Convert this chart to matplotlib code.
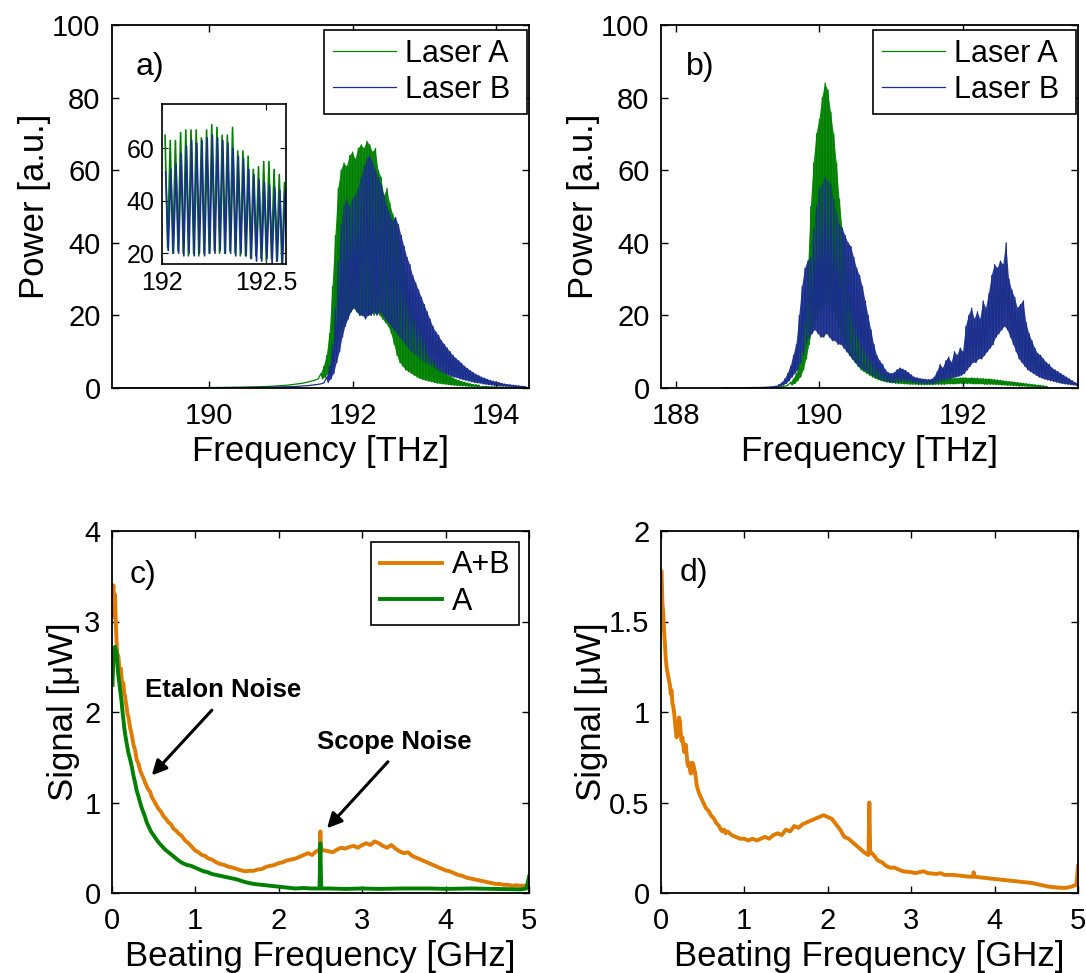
import numpy as np
import matplotlib
matplotlib.use("Agg")
import matplotlib.pyplot as plt

plt.rcParams['font.family'] = ['Liberation Sans', 'DejaVu Sans']
plt.rcParams['font.size'] = 21

# ---------------- data ----------------
GREEN = '#008000'
BLUE = '#1a2e8c'
ORANGE = '#df7b00'

STEP = 0.04  # THz between successive (peak, trough) readings

# Panel a) -- Laser A
a_A_lead_f = [188.64, 189.5, 190.0, 190.4, 190.7, 190.9, 191.1, 191.3, 191.45, 191.52]
a_A_lead_p = [0.05, 0.08, 0.12, 0.2, 0.35, 0.5, 0.8, 1.3, 2.0, 2.5]
a_A_osc_start = 191.56
a_A_osc = [(4, 2.5), (6, 3), (9, 4), (15, 6), (28, 8), (42, 11), (55, 14), (60, 17),
           (62, 19), (61, 20), (64, 21), (65, 22), (63, 21), (66, 20), (67, 20), (66, 21),
           (68, 20), (67, 21), (65, 20), (66, 21), (60, 20), (58, 19), (53, 18), (55, 17),
           (51, 15), (48, 12), (46, 9), (42, 7), (37, 6), (33, 5), (28, 4.5), (24, 4),
           (21, 3.5), (18, 3), (16, 2.6), (14, 2.3), (12, 2.1), (10, 1.9), (8.5, 1.7), (7.5, 1.5),
           (6.5, 1.3), (5.5, 1.2), (4.8, 1.1), (4.2, 1.0), (3.6, 0.9), (3.2, 0.8), (2.8, 0.7), (2.4, 0.65),
           (2.1, 0.6), (1.8, 0.55), (1.6, 0.5), (1.4, 0.45), (1.2, 0.4), (1.0, 0.35), (0.9, 0.3), (0.8, 0.3)]
a_A_tail_f = [193.82, 194.0, 194.2, 194.46]
a_A_tail_p = [0.4, 0.25, 0.15, 0.1]

# Panel a) -- Laser B
a_B_lead_f = [188.64, 190.0, 190.8, 191.2, 191.4, 191.55, 191.6]
a_B_lead_p = [0.05, 0.08, 0.2, 0.4, 0.7, 1.1, 1.4]
a_B_osc_start = 191.64
a_B_osc = [(3, 1.5), (6, 2.5), (12, 4), (22, 7), (35, 10), (45, 14), (50, 17), (52, 19),
           (50, 21), (52, 22), (53, 21), (55, 20), (58, 20), (61, 19), (63, 20), (64, 20),
           (62, 21), (60, 20), (58, 21), (56, 20), (53, 19), (50, 18), (48, 17), (46, 16),
           (47, 15), (45, 14), (42, 13), (39, 12), (36, 11), (34, 10), (31, 9.5), (29, 9),
           (27, 8), (25, 7.5), (23, 7), (21, 6.5), (19, 6), (17, 5.5), (15.5, 5), (14.5, 4.5),
           (13, 4.2), (12, 3.8), (11, 3.5), (10, 3.2), (9, 3.0), (8.2, 2.8), (7.5, 2.5), (6.8, 2.3),
           (6.0, 2.1), (5.4, 1.9), (4.8, 1.7), (4.3, 1.5), (3.8, 1.4), (3.4, 1.3), (3.0, 1.1), (2.7, 1.0),
           (2.4, 0.9), (2.1, 0.8), (1.9, 0.7), (1.7, 0.6), (1.5, 0.55), (1.3, 0.5), (1.1, 0.45), (1.0, 0.4),
           (0.9, 0.35), (0.8, 0.3), (0.7, 0.3), (0.6, 0.25), (0.5, 0.2), (0.45, 0.2)]

# Inset (zoom of panel a)
inset_start = 192.019
inset_period = 0.0249
inset_A = [(65, 22), (63, 20), (63, 21), (66, 20), (67, 19), (67, 20), (67, 19), (64, 20),
           (67, 20), (69, 21), (68, 20), (65, 20), (65, 21), (68, 20), (59, 19), (59, 19),
           (57, 18), (52, 19), (53, 18), (55, 17), (55, 18), (52, 17), (50, 15), (47, 16)]
inset_B = [(51, 21), (52, 20), (54, 20), (58, 19), (61, 20), (63, 19), (62, 20), (63, 19),
           (64, 20), (65, 20), (64, 21), (63, 20), (62, 20), (60, 19), (57, 20), (56, 19),
           (52, 18), (50, 17), (48, 17), (47, 18), (46, 16), (45, 17), (44, 16), (44, 17)]

# Panel b) -- Laser A
b_A_lead_f = [188.67, 189.0, 189.3, 189.45, 189.55]
b_A_lead_p = [0.05, 0.05, 0.1, 0.3, 0.6]
b_A_osc_start = 189.60
b_A_osc = [(1.5, 0.8), (2.5, 1.2), (4, 2), (6, 3), (10, 5), (18, 8), (32, 12), (50, 16),
           (62, 18), (70, 20), (74, 22), (80, 23), (84, 24), (82, 23), (76, 22), (70, 20),
           (62, 18), (52, 15), (44, 13), (36, 11), (28, 9), (22, 8), (18, 7), (15, 6),
           (13, 5), (11, 4.5), (9.5, 4), (8, 3.5), (7, 3), (6, 2.6), (5, 2.3), (4.5, 2),
           (4, 1.8), (3.6, 1.6), (3.3, 1.5), (3.0, 1.4), (2.8, 1.3), (2.6, 1.2), (2.5, 1.2), (2.4, 1.1),
           (2.3, 1.1), (2.2, 1.0), (2.2, 1.0), (2.1, 1.0), (2.1, 0.9), (2.0, 0.9), (2.0, 0.9), (2.1, 0.9),
           (2.1, 0.9), (2.2, 0.9), (2.2, 1.0), (2.3, 1.0), (2.4, 1.0), (2.5, 1.0), (2.5, 1.1), (2.6, 1.1),
           (2.6, 1.1), (2.7, 1.1), (2.7, 1.2), (2.8, 1.2), (2.8, 1.2), (2.8, 1.2), (2.7, 1.2), (2.8, 1.1),
           (2.7, 1.1), (2.7, 1.1), (2.6, 1.1), (2.6, 1.0), (2.5, 1.0), (2.5, 1.0), (2.4, 1.0), (2.3, 0.9),
           (2.2, 0.9), (2.1, 0.8), (2.0, 0.8), (1.9, 0.7), (1.8, 0.7), (1.7, 0.6), (1.6, 0.6), (1.5, 0.5),
           (1.4, 0.5), (1.3, 0.5), (1.2, 0.4), (1.1, 0.4), (1.0, 0.35), (0.9, 0.3), (0.8, 0.3), (0.7, 0.25),
           (0.6, 0.2), (0.5, 0.2)]

# Panel b) -- Laser B
b_B_lead_f = [188.67, 189.0, 189.2, 189.3, 189.36]
b_B_lead_p = [0.05, 0.1, 0.15, 0.25, 0.35]
b_B_osc_start = 189.40
b_B_osc = [(0.5, 0.3), (1.0, 0.5), (1.5, 0.8), (2.5, 1.2), (4, 2), (6, 3), (9, 4), (12, 5),
           (20, 7), (28, 9), (33, 12), (35, 14), (36, 15), (44, 16), (50, 15), (55, 14),
           (56, 14), (58, 15), (57, 14), (56, 13), (52, 13), (48, 12), (45, 12), (44, 11),
           (42, 10), (40, 9), (39, 8), (36, 7), (33, 6), (31, 5.5), (28, 5), (24, 4.5),
           (20, 4), (16, 3.5), (12, 3), (9, 2.6), (7.5, 2.3), (6.5, 2), (5, 1.8), (4.2, 1.6),
           (4.0, 1.5), (4.2, 1.5), (5.0, 1.6), (5.5, 1.8), (5.2, 1.8), (4.8, 1.7), (4.2, 1.6), (3.6, 1.5),
           (3.0, 1.4), (2.8, 1.3), (2.6, 1.3), (2.5, 1.2), (2.4, 1.2), (2.3, 1.2), (2.4, 1.2), (3.0, 1.3),
           (4.5, 1.5), (6.5, 1.8), (5.5, 2.0), (7.5, 2.3), (8.5, 2.5), (7.0, 2.8), (10, 3.0), (9.0, 3.2),
           (11, 3.5), (10, 4), (17, 5), (20, 6), (22, 7), (19, 7), (21, 8), (19, 8),
           (24, 9), (22, 10), (26, 11), (31, 12), (34, 14), (33, 15), (35, 16), (34, 17),
           (40, 16), (30, 14), (27, 12), (25, 10), (22, 8), (23, 7), (24, 6), (18, 5),
           (15, 4.5), (13, 4), (11, 3.5), (9.5, 3), (9, 2.7), (8, 2.4), (7, 2.2), (6.5, 2.0),
           (5.5, 1.8), (5, 1.6), (4.5, 1.4), (4, 1.2), (3.5, 1.1), (3, 1.0), (2.5, 0.9), (2.0, 0.8),
           (1.5, 0.7), (1.2, 0.6)]

# Panel c) -- beat-note spectrum, lasers A+B: (GHz, uW)
c_AB = [(0.01, 3.1), (0.02, 3.40), (0.03, 3.05), (0.04, 3.30), (0.05, 2.95), (0.06, 2.75),
        (0.07, 2.6), (0.08, 2.62), (0.09, 2.5), (0.10, 2.45), (0.11, 2.48), (0.12, 2.35),
        (0.13, 2.3), (0.14, 2.32), (0.15, 2.2), (0.16, 2.18), (0.17, 2.1), (0.18, 2.05),
        (0.19, 1.97), (0.20, 1.95), (0.22, 1.83), (0.24, 1.75), (0.26, 1.64), (0.28, 1.58),
        (0.30, 1.47), (0.32, 1.43), (0.34, 1.36), (0.36, 1.31), (0.38, 1.27), (0.40, 1.22),
        (0.42, 1.18), (0.44, 1.14), (0.46, 1.12), (0.48, 1.06), (0.50, 1.03), (0.53, 0.98),
        (0.56, 0.93), (0.59, 0.90), (0.62, 0.85), (0.65, 0.82), (0.68, 0.78), (0.71, 0.76),
        (0.74, 0.71), (0.77, 0.69), (0.80, 0.66), (0.84, 0.63), (0.88, 0.58), (0.92, 0.55),
        (0.96, 0.51), (1.00, 0.47), (1.04, 0.45), (1.08, 0.42), (1.12, 0.41), (1.16, 0.38),
        (1.20, 0.37), (1.25, 0.34), (1.30, 0.32), (1.35, 0.31), (1.40, 0.29), (1.45, 0.28),
        (1.50, 0.265), (1.55, 0.25), (1.60, 0.24), (1.65, 0.245), (1.70, 0.245), (1.75, 0.26),
        (1.80, 0.265), (1.85, 0.29), (1.90, 0.30), (1.95, 0.31), (2.00, 0.33), (2.05, 0.34),
        (2.10, 0.36), (2.15, 0.37), (2.20, 0.38), (2.25, 0.40), (2.30, 0.42), (2.35, 0.44),
        (2.40, 0.42), (2.45, 0.46), (2.48, 0.47), (2.495, 0.50), (2.50, 0.68), (2.505, 0.52),
        (2.52, 0.47), (2.56, 0.47), (2.60, 0.46), (2.65, 0.45), (2.70, 0.48), (2.75, 0.50),
        (2.80, 0.49), (2.85, 0.51), (2.90, 0.52), (2.95, 0.50), (3.00, 0.53), (3.05, 0.55),
        (3.10, 0.53), (3.15, 0.57), (3.20, 0.55), (3.25, 0.52), (3.30, 0.50), (3.35, 0.53),
        (3.40, 0.49), (3.45, 0.46), (3.50, 0.44), (3.55, 0.45), (3.60, 0.41), (3.65, 0.39),
        (3.70, 0.37), (3.75, 0.35), (3.80, 0.33), (3.85, 0.31), (3.90, 0.29), (3.95, 0.27),
        (4.00, 0.25), (4.05, 0.24), (4.10, 0.22), (4.15, 0.20), (4.20, 0.19), (4.25, 0.17),
        (4.30, 0.16), (4.35, 0.15), (4.40, 0.14), (4.45, 0.13), (4.50, 0.12), (4.55, 0.11),
        (4.60, 0.10), (4.65, 0.10), (4.70, 0.09), (4.75, 0.09), (4.80, 0.08), (4.85, 0.085),
        (4.90, 0.08), (4.95, 0.08), (4.99, 0.09), (5.00, 0.10)]

# Panel c) -- beat-note spectrum, laser A only
c_A = [(0.01, 2.3), (0.02, 2.6), (0.03, 2.7), (0.04, 2.72), (0.05, 2.68), (0.06, 2.65),
       (0.07, 2.5), (0.08, 2.4), (0.09, 2.33), (0.10, 2.25), (0.11, 2.18), (0.12, 2.1),
       (0.13, 2.0), (0.14, 1.92), (0.15, 1.83), (0.16, 1.76), (0.18, 1.65), (0.20, 1.55),
       (0.22, 1.48), (0.24, 1.40), (0.26, 1.30), (0.28, 1.22), (0.30, 1.13), (0.32, 1.07),
       (0.34, 1.00), (0.36, 0.94), (0.38, 0.89), (0.40, 0.84), (0.42, 0.78), (0.44, 0.74),
       (0.47, 0.68), (0.50, 0.64), (0.53, 0.60), (0.56, 0.56), (0.60, 0.52), (0.64, 0.48),
       (0.68, 0.45), (0.72, 0.42), (0.76, 0.39), (0.80, 0.36), (0.85, 0.33), (0.90, 0.31),
       (0.95, 0.30), (1.00, 0.28), (1.05, 0.26), (1.10, 0.24), (1.15, 0.23), (1.20, 0.21),
       (1.25, 0.20), (1.30, 0.19), (1.35, 0.18), (1.40, 0.17), (1.50, 0.15), (1.60, 0.12),
       (1.70, 0.10), (1.80, 0.09), (1.90, 0.08), (2.00, 0.07), (2.10, 0.06), (2.20, 0.05),
       (2.30, 0.055), (2.40, 0.05), (2.49, 0.05), (2.50, 0.55), (2.51, 0.05), (2.60, 0.05),
       (2.80, 0.045), (3.00, 0.05), (3.20, 0.045), (3.50, 0.05), (3.80, 0.05), (4.00, 0.045),
       (4.30, 0.05), (4.60, 0.045), (4.90, 0.04), (4.97, 0.05), (5.00, 0.18)]

# Panel d) -- beat-note spectrum, lasers A+B (second configuration)
d_AB = [(0.01, 1.775), (0.015, 1.70), (0.02, 1.60), (0.03, 1.55), (0.04, 1.45), (0.05, 1.38),
        (0.06, 1.30), (0.07, 1.25), (0.08, 1.22), (0.09, 1.20), (0.10, 1.17), (0.11, 1.15),
        (0.12, 1.10), (0.13, 1.12), (0.14, 1.05), (0.15, 1.03), (0.16, 1.00), (0.17, 0.95),
        (0.18, 0.90), (0.19, 0.86), (0.20, 0.88), (0.21, 0.93), (0.22, 0.97), (0.23, 0.95),
        (0.24, 0.88), (0.25, 0.84), (0.26, 0.86), (0.27, 0.82), (0.28, 0.78), (0.29, 0.80),
        (0.30, 0.82), (0.31, 0.77), (0.32, 0.72), (0.33, 0.70), (0.34, 0.72), (0.35, 0.68),
        (0.36, 0.66), (0.37, 0.67), (0.38, 0.72), (0.39, 0.71), (0.40, 0.69), (0.41, 0.67),
        (0.42, 0.64), (0.43, 0.60), (0.44, 0.58), (0.46, 0.55), (0.48, 0.53), (0.50, 0.51),
        (0.52, 0.49), (0.54, 0.47), (0.56, 0.46), (0.58, 0.45), (0.60, 0.43), (0.62, 0.42),
        (0.64, 0.41), (0.66, 0.39), (0.68, 0.38), (0.70, 0.37), (0.72, 0.35), (0.74, 0.34),
        (0.76, 0.35), (0.78, 0.33), (0.80, 0.34), (0.85, 0.32), (0.90, 0.31), (0.95, 0.30),
        (1.00, 0.30), (1.05, 0.29), (1.10, 0.30), (1.15, 0.29), (1.20, 0.30), (1.25, 0.31),
        (1.30, 0.30), (1.35, 0.32), (1.40, 0.33), (1.45, 0.32), (1.50, 0.35), (1.55, 0.34),
        (1.60, 0.37), (1.65, 0.36), (1.70, 0.38), (1.75, 0.39), (1.80, 0.40), (1.85, 0.41),
        (1.90, 0.42), (1.95, 0.43), (2.00, 0.42), (2.05, 0.41), (2.10, 0.38), (2.15, 0.35),
        (2.20, 0.31), (2.25, 0.30), (2.30, 0.28), (2.35, 0.26), (2.40, 0.24), (2.45, 0.22),
        (2.49, 0.21), (2.50, 0.50), (2.51, 0.23), (2.55, 0.21), (2.60, 0.18), (2.65, 0.17),
        (2.70, 0.15), (2.75, 0.14), (2.80, 0.14), (2.90, 0.12), (3.00, 0.115), (3.05, 0.11),
        (3.10, 0.115), (3.15, 0.12), (3.20, 0.11), (3.30, 0.105), (3.35, 0.11), (3.40, 0.10),
        (3.50, 0.10), (3.60, 0.095), (3.70, 0.09), (3.74, 0.09), (3.75, 0.115), (3.76, 0.09),
        (3.85, 0.085), (3.95, 0.08), (4.05, 0.075), (4.15, 0.07), (4.25, 0.065), (4.35, 0.06),
        (4.45, 0.055), (4.55, 0.045), (4.65, 0.035), (4.75, 0.03), (4.85, 0.028), (4.92, 0.035),
        (4.98, 0.045), (5.00, 0.15)]

x_ticks_a = [190, 192, 194]
x_ticks_b = [188, 190, 192]
y_ticks_ab = [0, 20, 40, 60, 80, 100]
inset_xticks = [192, 192.5]
inset_xticklabels = ['192', '192.5']
inset_yticks = [20, 40, 60]
x_ticks_cd = [0, 1, 2, 3, 4, 5]
y_ticks_c = [0, 1, 2, 3, 4]
y_ticks_d = [0, 0.5, 1, 1.5, 2]
y_ticklabels_d = ['0', '0.5', '1', '1.5', '2']


def zigzag(start, pairs, step):
    """Order the typed (peak, trough) readings along the frequency grid."""
    f = start + step * np.arange(len(pairs))
    x = np.column_stack([f, f + step / 2]).ravel()
    y = np.asarray(pairs, dtype=float).ravel()
    return x, y


def spectrum(ax, lead_f, lead_p, start, pairs, step, color, label, tail_f=(), tail_p=()):
    f = start + step * np.arange(len(pairs))
    hi = np.array([p[0] for p in pairs], dtype=float)
    lo = np.array([p[1] for p in pairs], dtype=float)
    # dense fringes: fill between the peak and trough readings
    ax.fill(np.r_[f, (f + step / 2)[::-1]], np.r_[hi, lo[::-1]],
            color=color, lw=0, alpha=0.92)
    zx, zy = zigzag(start, pairs, step)
    x = np.concatenate([lead_f, zx, tail_f])
    y = np.concatenate([lead_p, zy, tail_p])
    ax.plot(x, y, color=color, lw=0.9, label=label)


def style(ax):
    ax.tick_params(direction='in', top=True, right=True, length=5, width=1.0,
                   labelsize=21)
    ax.tick_params(axis='x', pad=10)
    ax.tick_params(axis='y', pad=8)
    for s in ax.spines.values():
        s.set_linewidth(1.3)


def legend(ax, anchor):
    leg = ax.legend(loc='upper right', bbox_to_anchor=anchor, borderaxespad=0,
                    fontsize=22, handlelength=2.05, handletextpad=0.3, labelspacing=0.2,
                    borderpad=0.28, fancybox=False, edgecolor='black', framealpha=1)
    leg.get_frame().set_linewidth(1.2)


fig = plt.figure(figsize=(10.86, 9.73), dpi=100)
W, H = 1086, 973


def axrect(l, t, r, b):
    return [l / W, (H - b) / H, (r - l) / W, (b - t) / H]


ax_a = fig.add_axes(axrect(111.7, 25, 529, 388))
ax_b = fig.add_axes(axrect(660.7, 25, 1078, 388))
ax_c = fig.add_axes(axrect(111.7, 531, 529, 893))
ax_d = fig.add_axes(axrect(660.7, 531, 1078, 893))

LABEL_FS = 25

# ---- a) ----
spectrum(ax_a, a_A_lead_f, a_A_lead_p, a_A_osc_start, a_A_osc, STEP, GREEN, 'Laser A ',
         a_A_tail_f, a_A_tail_p)
spectrum(ax_a, a_B_lead_f, a_B_lead_p, a_B_osc_start, a_B_osc, STEP, BLUE, 'Laser B ')
ax_a.set_xlim(188.64, 194.46)
ax_a.set_ylim(0, 100)
ax_a.set_xticks(x_ticks_a)
ax_a.set_yticks(y_ticks_ab)
ax_a.set_xlabel('Frequency [THz]', fontsize=LABEL_FS, labelpad=4)
ax_a.set_ylabel('Power [a.u.]', fontsize=LABEL_FS, labelpad=1)
style(ax_a)
ax_a.text(0.092, 0.885, 'a)', transform=ax_a.transAxes, fontsize=23, ha='center', va='center')
legend(ax_a, (0.995, 0.985))

# inset
ax_in = fig.add_axes(axrect(161.7, 104.3, 286, 264))
ixA, iyA = zigzag(inset_start - 0.003, inset_A, inset_period)
ixB, iyB = zigzag(inset_start, inset_B, inset_period)
ax_in.plot(ixA, iyA, color=GREEN, lw=1.2)
ax_in.plot(ixB, iyB, color=BLUE, lw=1.2)
ax_in.set_xlim(192.0, 192.596)
ax_in.set_ylim(15.9, 76.8)
ax_in.set_xticks(inset_xticks)
ax_in.set_xticklabels(inset_xticklabels)
ax_in.set_yticks(inset_yticks)
ax_in.tick_params(direction='in', top=True, right=True, length=4, labelsize=18, pad=5)
for s in ax_in.spines.values():
    s.set_linewidth(1.2)

# ---- b) ----
spectrum(ax_b, b_A_lead_f, b_A_lead_p, b_A_osc_start, b_A_osc, STEP, GREEN, 'Laser A ')
spectrum(ax_b, b_B_lead_f, b_B_lead_p, b_B_osc_start, b_B_osc, STEP, BLUE, 'Laser B ')
ax_b.set_xlim(187.79, 193.6)
ax_b.set_ylim(0, 100)
ax_b.set_xticks(x_ticks_b)
ax_b.set_yticks(y_ticks_ab)
ax_b.set_xlabel('Frequency [THz]', fontsize=LABEL_FS, labelpad=4)
ax_b.set_ylabel('Power [a.u.]', fontsize=LABEL_FS, labelpad=1)
style(ax_b)
ax_b.text(0.095, 0.885, 'b)', transform=ax_b.transAxes, fontsize=23, ha='center', va='center')
legend(ax_b, (0.995, 0.985))

# ---- c) ----
cABx, cABy = zip(*c_AB)
cAx, cAy = zip(*c_A)
ax_c.plot(cABx, cABy, color=ORANGE, lw=2.8, label='A+B')
ax_c.plot(cAx, cAy, color=GREEN, lw=2.8, label='A')
ax_c.set_xlim(0, 5)
ax_c.set_ylim(0, 4)
ax_c.set_xticks(x_ticks_cd)
ax_c.set_yticks(y_ticks_c)
ax_c.set_xlabel('Beating Frequency [GHz]', fontsize=LABEL_FS, labelpad=4)
ax_c.set_ylabel('Signal [\u03bcW]', fontsize=LABEL_FS, labelpad=3)
style(ax_c)
ax_c.text(0.075, 0.878, 'c)', transform=ax_c.transAxes, fontsize=23, ha='center', va='center')
legend(ax_c, (0.975, 0.97))
ax_c.text(1.33, 2.24, 'Etalon Noise', fontsize=18.5, fontweight='bold', ha='center', va='center')
ax_c.annotate('', xy=(0.48, 1.30), xytext=(1.2, 2.02),
              arrowprops=dict(arrowstyle='-|>', color='black', lw=2.2, mutation_scale=22,
                              shrinkA=0, shrinkB=0))
ax_c.text(3.39, 1.67, 'Scope Noise', fontsize=18.5, fontweight='bold', ha='center', va='center')
ax_c.annotate('', xy=(2.58, 0.715), xytext=(3.31, 1.45),
              arrowprops=dict(arrowstyle='-|>', color='black', lw=2.2, mutation_scale=22,
                              shrinkA=0, shrinkB=0))

# ---- d) ----
dx, dy = zip(*d_AB)
ax_d.plot(dx, dy, color=ORANGE, lw=2.8)
ax_d.set_xlim(0, 5)
ax_d.set_ylim(0, 2)
ax_d.set_xticks(x_ticks_cd)
ax_d.set_yticks(y_ticks_d)
ax_d.set_yticklabels(y_ticklabels_d)
ax_d.set_xlabel('Beating Frequency [GHz]', fontsize=LABEL_FS, labelpad=4)
ax_d.set_ylabel('Signal [\u03bcW]', fontsize=LABEL_FS, labelpad=1)
style(ax_d)
ax_d.text(0.08, 0.884, 'd)', transform=ax_d.transAxes, fontsize=23, ha='center', va='center')

fig.savefig('out.png', dpi=100)
